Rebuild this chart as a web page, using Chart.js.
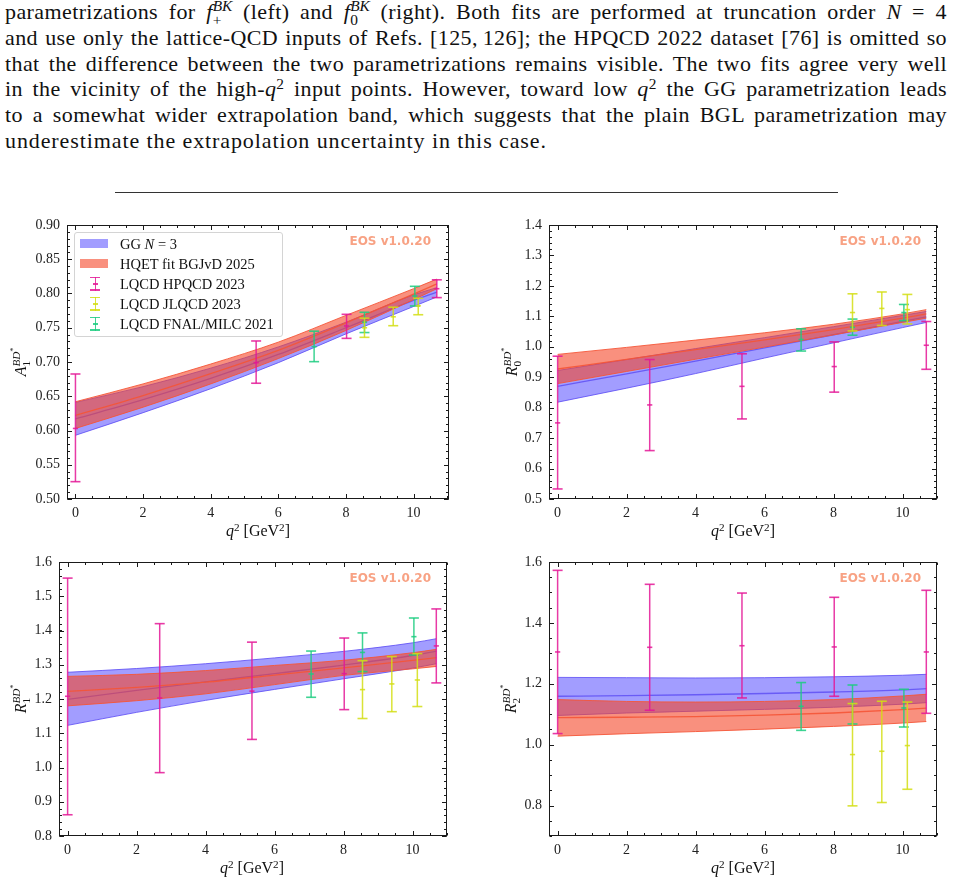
<!DOCTYPE html>
<html><head><meta charset="utf-8">
<script src="https://cdn.jsdelivr.net/npm/chart.js@4.4.1/dist/chart.umd.min.js"></script>
<style>
html,body{margin:0;padding:0;background:#fff;}
body{width:953px;height:884px;position:relative;overflow:hidden;font-family:'Liberation Serif',serif;color:#111;}
.para{position:absolute;left:5px;top:-1px;width:942px;font-size:22px;line-height:25.8px;letter-spacing:0.4px;}
.para .ln{height:25.8px;text-align:justify;text-align-last:justify;}
.para .ln.last{text-align:left;text-align-last:left;letter-spacing:0.9px;}
.sp{font-size:0.7em;line-height:0;vertical-align:0.45em;}
.ss{display:inline-flex;flex-direction:column;font-size:0.7em;line-height:0.92;vertical-align:0.55em;text-align:left;text-align-last:left;letter-spacing:0;}
.rule{position:absolute;left:115px;top:192px;width:723px;height:1px;background:#333;}
canvas{position:absolute;}
.eos{position:absolute;font-family:'DejaVu Sans',sans-serif;font-weight:bold;font-size:12px;color:rgb(248,162,132);white-space:nowrap;line-height:14px;}
.ylab{position:absolute;font-size:16px;white-space:nowrap;transform:translate(-50%,-50%) rotate(-90deg);line-height:20px;}
.xlab{position:absolute;font-size:16px;white-space:nowrap;transform:translate(-50%,-50%);line-height:20px;}
.legend{position:absolute;left:74px;top:232px;width:209px;height:105px;border:1px solid #d4d4d4;border-radius:3px;background:rgba(255,255,255,0.85);box-sizing:border-box;font-size:14.5px;}
.legend .row{position:absolute;left:0;height:20px;width:100%;}
.legend .sw{position:absolute;left:5px;top:5.5px;width:28px;height:9px;}
.legend .tx{position:absolute;left:45px;top:0;line-height:20px;white-space:nowrap;}
.eb{position:absolute;left:15px;top:3px;width:10px;height:14px;}
.eb .v{position:absolute;left:4.5px;top:0;width:1.5px;height:14px;}
.eb .c{position:absolute;left:0;width:10px;height:1.5px;}
.eb .m{position:absolute;left:2.5px;top:6.5px;width:5px;height:1.5px;}
</style></head><body>

<div class="para">
<div class="ln">parametrizations for <i>f</i><span class="ss"><span><i>BK</i></span><span>+</span></span> (left) and <i>f</i><span class="ss"><span><i>BK</i></span><span>0</span></span> (right). Both fits are performed at truncation order <i>N</i>&nbsp;=&nbsp;4</div>
<div class="ln">and use only the lattice-QCD inputs of Refs. [125,&thinsp;126]; the HPQCD 2022 dataset [76] is omitted so</div>
<div class="ln">that the difference between the two parametrizations remains visible. The two fits agree very well</div>
<div class="ln">in the vicinity of the high-<i>q</i><span class="sp">2</span> input points. However, toward low <i>q</i><span class="sp">2</span> the GG parametrization leads</div>
<div class="ln">to a somewhat wider extrapolation band, which suggests that the plain BGL parametrization may</div>
<div class="ln last">underestimate the extrapolation uncertainty in this case.</div>
</div>
<div class="rule"></div>

<canvas id="c1"></canvas><canvas id="c2"></canvas><canvas id="c3"></canvas><canvas id="c4"></canvas>

<div class="legend">
  <div class="row" style="top:0.5px"><div class="sw" style="background:rgba(80,70,255,0.53)"></div><div class="tx">GG <i>N</i> = 3</div></div>
  <div class="row" style="top:20.5px"><div class="sw" style="background:rgba(245,70,40,0.6)"></div><div class="tx">HQET fit BGJvD 2025</div></div>
  <div class="row" style="top:40.5px"><div class="eb"><div class="v" style="background:rgba(228,24,150,0.85)"></div><div class="c" style="top:0;background:rgba(228,24,150,0.85)"></div><div class="c" style="top:12.5px;background:rgba(228,24,150,0.85)"></div><div class="m" style="background:rgba(228,24,150,0.85)"></div></div><div class="tx">LQCD HPQCD 2023</div></div>
  <div class="row" style="top:60.5px"><div class="eb"><div class="v" style="background:rgba(212,222,20,0.85)"></div><div class="c" style="top:0;background:rgba(212,222,20,0.85)"></div><div class="c" style="top:12.5px;background:rgba(212,222,20,0.85)"></div><div class="m" style="background:rgba(212,222,20,0.85)"></div></div><div class="tx">LQCD JLQCD 2023</div></div>
  <div class="row" style="top:80.5px"><div class="eb"><div class="v" style="background:rgba(28,204,128,0.85)"></div><div class="c" style="top:0;background:rgba(28,204,128,0.85)"></div><div class="c" style="top:12.5px;background:rgba(28,204,128,0.85)"></div><div class="m" style="background:rgba(28,204,128,0.85)"></div></div><div class="tx">LQCD FNAL/MILC 2021</div></div>
</div>

<div class="eos" style="right:522px;top:234px">EOS v1.0.20</div>
<div class="eos" style="right:32px;top:234px">EOS v1.0.20</div>
<div class="eos" style="right:522px;top:571px">EOS v1.0.20</div>
<div class="eos" style="right:32px;top:571px">EOS v1.0.20</div>

<div class="ylab" style="left:21px;top:362px"><i>A</i><span class="ss"><span><i>BD</i><span class="sp">*</span></span><span>1</span></span></div>
<div class="ylab" style="left:512px;top:362px"><i>R</i><span class="ss"><span><i>BD</i><span class="sp">*</span></span><span>0</span></span></div>
<div class="ylab" style="left:21px;top:699px"><i>R</i><span class="ss"><span><i>BD</i><span class="sp">*</span></span><span>1</span></span></div>
<div class="ylab" style="left:511px;top:699px"><i>R</i><span class="ss"><span><i>BD</i><span class="sp">*</span></span><span>2</span></span></div>

<div class="xlab" style="left:258px;top:531px"><i>q</i><span class="sp">2</span> [GeV<span class="sp">2</span>]</div>
<div class="xlab" style="left:743px;top:531px"><i>q</i><span class="sp">2</span> [GeV<span class="sp">2</span>]</div>
<div class="xlab" style="left:252px;top:868px"><i>q</i><span class="sp">2</span> [GeV<span class="sp">2</span>]</div>
<div class="xlab" style="left:743px;top:868px"><i>q</i><span class="sp">2</span> [GeV<span class="sp">2</span>]</div>

<script>
// ---------- data ----------
const q2Grid = [0, 2, 4, 6, 8, 10, 10.69];
const xTickValues = [0, 2, 4, 6, 8, 10];
const xTickLabels = ['0', '2', '4', '6', '8', '10'];

// A1
const a1GGUp  = [0.641, 0.664, 0.691, 0.722, 0.758, 0.798, 0.8085];
const a1GGMid = [0.617, 0.645, 0.676, 0.711, 0.750, 0.790, 0.802];
const a1GGLo  = [0.593, 0.626, 0.661, 0.699, 0.741, 0.781, 0.795];
const a1HQUp  = [0.642, 0.668, 0.697, 0.729, 0.768, 0.807, 0.821];
const a1HQMid = [0.622, 0.651, 0.683, 0.717, 0.757, 0.799, 0.814];
const a1HQLo  = [0.603, 0.634, 0.668, 0.705, 0.746, 0.791, 0.807];
const a1HpQ2 = [0, 5.345, 8.02, 10.69];
const a1HpC  = [0.603, 0.699, 0.7526, 0.807];
const a1HpLo = [0.5253, 0.669, 0.7345, 0.794];
const a1HpHi = [0.6825, 0.7307, 0.7696, 0.820];
const jlQ2 = [8.55, 9.40, 10.14];
const a1JlC  = [0.750, 0.766, 0.782];
const a1JlLo = [0.736, 0.753, 0.769];
const a1JlHi = [0.764, 0.780, 0.793];
const fnQ2 = [7.06, 8.55, 10.04];
const a1FnC  = [0.7224, 0.758, 0.7964];
const a1FnLo = [0.7005, 0.743, 0.7818];
const a1FnHi = [0.745, 0.7726, 0.8105];
const a1YTicks = [0.50, 0.55, 0.60, 0.65, 0.70, 0.75, 0.80, 0.85, 0.90];
const a1YLabels = ['0.50', '0.55', '0.60', '0.65', '0.70', '0.75', '0.80', '0.85', '0.90'];

// R0
const r0GGUp  = [0.922, 0.958, 0.994, 1.030, 1.066, 1.103, 1.116];
const r0GGMid = [0.870, 0.911, 0.953, 0.9965, 1.0395, 1.083, 1.098];
const r0GGLo  = [0.818, 0.864, 0.912, 0.963, 1.013, 1.063, 1.080];
const r0HQUp  = [0.975, 0.998, 1.022, 1.046, 1.074, 1.108, 1.122];
const r0HQMid = [0.927, 0.9585, 0.9905, 1.0225, 1.0565, 1.094, 1.108];
const r0HQLo  = [0.879, 0.919, 0.959, 0.999, 1.039, 1.080, 1.094];
const hpQ2 = [0, 2.67, 5.345, 8.02, 10.69];
const r0HpC  = [0.750, 0.809, 0.870, 0.935, 1.005];
const r0HpLo = [0.533, 0.659, 0.763, 0.851, 0.926];
const r0HpHi = [0.969, 0.958, 0.977, 1.016, 1.083];
const r0JlC  = [1.1125, 1.126, 1.122];
const r0JlLo = [1.052, 1.070, 1.075];
const r0JlHi = [1.174, 1.180, 1.172];
const r0FnC  = [1.024, 1.064, 1.1125];
const r0FnLo = [0.986, 1.038, 1.086];
const r0FnHi = [1.059, 1.091, 1.139];
const r0YTicks = [0.5, 0.6, 0.7, 0.8, 0.9, 1.0, 1.1, 1.2, 1.3, 1.4];
const r0YLabels = ['0.5', '0.6', '0.7', '0.8', '0.9', '1.0', '1.1', '1.2', '1.3', '1.4'];

// R1
const r1GGUp  = [1.278, 1.289, 1.303, 1.320, 1.339, 1.364, 1.376];
const r1GGMid = [1.199, 1.225, 1.250, 1.274, 1.299, 1.327, 1.340];
const r1GGLo  = [1.123, 1.161, 1.196, 1.228, 1.259, 1.290, 1.303];
const r1HQUp  = [1.266, 1.272, 1.283, 1.298, 1.313, 1.335, 1.345];
const r1HQMid = [1.222, 1.234, 1.249, 1.270, 1.291, 1.3125, 1.321];
const r1HQLo  = [1.180, 1.195, 1.215, 1.242, 1.269, 1.288, 1.295];
const r1HpC  = [1.208, 1.203, 1.223, 1.274, 1.355];
const r1HpLo = [0.862, 0.985, 1.082, 1.169, 1.247];
const r1HpHi = [1.553, 1.420, 1.366, 1.378, 1.463];
const r1JlC  = [1.2274, 1.244, 1.2555];
const r1JlLo = [1.143, 1.163, 1.178];
const r1JlHi = [1.312, 1.324, 1.3325];
const r1FnC  = [1.273, 1.336, 1.382];
const r1FnLo = [1.205, 1.280, 1.3285];
const r1FnHi = [1.340, 1.393, 1.4365];
const r1YTicks = [0.8, 0.9, 1.0, 1.1, 1.2, 1.3, 1.4, 1.5, 1.6];
const r1YLabels = ['0.8', '0.9', '1.0', '1.1', '1.2', '1.3', '1.4', '1.5', '1.6'];

// R2
const r2GGUp  = [1.221, 1.220, 1.219, 1.220, 1.223, 1.228, 1.231];
const r2GGMid = [1.159, 1.161, 1.164, 1.168, 1.173, 1.180, 1.184];
const r2GGLo  = [1.096, 1.104, 1.110, 1.116, 1.123, 1.133, 1.138];
const r2HQUp  = [1.148, 1.142, 1.140, 1.142, 1.148, 1.160, 1.1655];
const r2HQMid = [1.089, 1.090, 1.092, 1.097, 1.104, 1.115, 1.120];
const r2HQLo  = [1.028, 1.036, 1.043, 1.051, 1.060, 1.071, 1.076];
const r2HpC  = [1.3045, 1.3198, 1.325, 1.321, 1.3045];
const r2HpLo = [1.0364, 1.113, 1.1535, 1.159, 1.103];
const r2HpHi = [1.5726, 1.5267, 1.498, 1.484, 1.507];
const r2JlC  = [0.9675, 0.9783, 0.997];
const r2JlLo = [0.799, 0.810, 0.8535];
const r2JlHi = [1.135, 1.1426, 1.140];
const r2FnC  = [1.126, 1.135, 1.1205];
const r2FnLo = [1.047, 1.068, 1.058];
const r2FnHi = [1.204, 1.196, 1.182];
const r2YTicks = [0.8, 1.0, 1.2, 1.4, 1.6];
const r2YLabels = ['0.8', '1.0', '1.2', '1.4', '1.6'];

// ---------- styles ----------
const GG_FILL = 'rgba(80,70,255,0.53)', GG_LINE = 'rgba(95,80,245,0.85)';
const HQ_FILL = 'rgba(245,70,40,0.6)',  HQ_LINE = 'rgba(245,85,55,0.9)';
const HP_COL = 'rgba(228,24,150,0.85)', JL_COL = 'rgba(212,222,20,0.85)', FN_COL = 'rgba(28,204,128,0.85)';

Chart.defaults.font.family = "'Liberation Serif', serif";
Chart.defaults.font.size = 14;
Chart.defaults.color = '#222';

function band(up, mid, lo, fill, line, ord) {
  const pts = arr => q2Grid.map((x, i) => ({x, y: arr[i]}));
  const base = {pointRadius: 0, borderWidth: 1, cubicInterpolationMode: 'monotone', borderColor: line};
  return [
    {...base, data: pts(up), fill: '+1', backgroundColor: fill, order: ord + 1},
    {...base, data: pts(lo), fill: false, order: ord},
    {...base, data: pts(mid), fill: false, borderWidth: 1.3, order: ord},
  ];
}
function bars(xs, c, lo, hi, color) {
  return xs.map((x, i) => ({
    data: [{x, y: lo[i]}, {x, y: c[i]}, {x, y: hi[i]}],
    borderColor: color, borderWidth: 1.5, showLine: true, fill: false,
    pointStyle: 'line', pointRadius: [5, 2.6, 5], pointBorderColor: color, pointBorderWidth: 1.6,
    order: 5
  }));
}

const frameTicks = {
  id: 'frameTicks',
  afterDatasetsDraw(chart, args, o) {
    const {ctx, chartArea: a, scales} = chart;
    const xs = scales.x, ys = scales.y;
    const L = Math.round(a.left) + 0.5, R = Math.round(a.right) - 0.5;
    const T = Math.round(a.top) + 0.5, B = Math.round(a.bottom) - 0.5;
    ctx.save();
    ctx.strokeStyle = '#1a1a1a';
    ctx.lineWidth = 1;
    ctx.beginPath();
    const seg = (x1, y1, x2, y2) => { ctx.moveTo(x1, y1); ctx.lineTo(x2, y2); };
    const xt = (v, len) => { const p = Math.round(xs.getPixelForValue(v)) + 0.5; seg(p, B, p, B - len); seg(p, T, p, T + len); };
    const yt = (v, len) => { const p = Math.round(ys.getPixelForValue(v)) + 0.5; seg(L, p, L + len, p); seg(R, p, R - len, p); };
    const minor = (min, max, step, fn) => { for (let k = Math.ceil(min / step - 1e-6); k * step <= max + 1e-9; k++) fn(k * step, 2.5); };
    minor(xs.min, xs.max, o.xMinor, xt);
    minor(ys.min, ys.max, o.yMinor, yt);
    o.xMajor.forEach(v => xt(v, 4.5));
    o.yMajor.forEach(v => yt(v, 4.5));
    ctx.stroke();
    ctx.strokeRect(L, T, R - L, B - T);
    ctx.restore();
  }
};

function makeChart(id, box, plot, xr, yr, yTicks, yLabels, yMinor, datasets) {
  const cv = document.getElementById(id);
  cv.style.left = box.x + 'px'; cv.style.top = box.y + 'px';
  cv.width = box.w; cv.height = box.h;
  cv.style.width = box.w + 'px'; cv.style.height = box.h + 'px';
  const yAxisW = plot.l - box.x - 2;
  const xAxisH = box.y + box.h - plot.b - 2;
  return new Chart(cv, {
    type: 'line',
    data: {datasets},
    plugins: [frameTicks],
    options: {
      responsive: false, animation: false, events: [],
      layout: {padding: {left: 2, top: plot.t - box.y, right: box.x + box.w - plot.r, bottom: 2}},
      plugins: {legend: {display: false}, tooltip: {enabled: false},
        frameTicks: {xMajor: xTickValues, xMinor: 0.5, yMajor: yTicks, yMinor: yMinor}},
      scales: {
        x: {type: 'linear', min: xr[0], max: xr[1],
          grid: {display: false, drawTicks: false}, border: {display: false},
          afterFit: s => { s.height = xAxisH; },
          afterBuildTicks: s => { s.ticks = xTickValues.map(v => ({value: v})); },
          ticks: {padding: 6, autoSkip: false, maxRotation: 0, minRotation: 0, callback: (v, i) => xTickLabels[i]}},
        y: {type: 'linear', min: yr[0], max: yr[1],
          grid: {display: false, drawTicks: false}, border: {display: false},
          afterFit: s => { s.width = yAxisW; },
          afterBuildTicks: s => { s.ticks = yTicks.map(v => ({value: v})); },
          ticks: {padding: 7, autoSkip: false, callback: (v, i) => yLabels[i]}}
      }
    }
  });
}

function series(gg, hq, hp, jl, fn) {
  return [
    ...band(gg[0], gg[1], gg[2], GG_FILL, GG_LINE, 40),
    ...band(hq[0], hq[1], hq[2], HQ_FILL, HQ_LINE, 30),
    ...bars(hp[0], hp[1], hp[2], hp[3], HP_COL),
    ...bars(jlQ2, jl[0], jl[1], jl[2], JL_COL),
    ...bars(fnQ2, fn[0], fn[1], fn[2], FN_COL),
  ];
}

makeChart('c1', {x: 0, y: 205, w: 470, h: 335}, {l: 67, r: 449, t: 225, b: 499}, [-0.25, 11.05], [0.5, 0.9], a1YTicks, a1YLabels, 0.01,
  series([a1GGUp, a1GGMid, a1GGLo], [a1HQUp, a1HQMid, a1HQLo], [a1HpQ2, a1HpC, a1HpLo, a1HpHi], [a1JlC, a1JlLo, a1JlHi], [a1FnC, a1FnLo, a1FnHi]));
makeChart('c2', {x: 470, y: 205, w: 483, h: 335}, {l: 549, r: 937, t: 225, b: 499}, [-0.25, 11.0], [0.5, 1.4], r0YTicks, r0YLabels, 0.02,
  series([r0GGUp, r0GGMid, r0GGLo], [r0HQUp, r0HQMid, r0HQLo], [hpQ2, r0HpC, r0HpLo, r0HpHi], [r0JlC, r0JlLo, r0JlHi], [r0FnC, r0FnLo, r0FnHi]));
makeChart('c3', {x: 0, y: 545, w: 470, h: 339}, {l: 59, r: 447, t: 562, b: 836}, [-0.25, 11.0], [0.8, 1.6], r1YTicks, r1YLabels, 0.02,
  series([r1GGUp, r1GGMid, r1GGLo], [r1HQUp, r1HQMid, r1HQLo], [hpQ2, r1HpC, r1HpLo, r1HpHi], [r1JlC, r1JlLo, r1JlHi], [r1FnC, r1FnLo, r1FnHi]));
makeChart('c4', {x: 470, y: 545, w: 483, h: 339}, {l: 549, r: 937, t: 562, b: 836}, [-0.25, 11.0], [0.7, 1.6], r2YTicks, r2YLabels, 0.05,
  series([r2GGUp, r2GGMid, r2GGLo], [r2HQUp, r2HQMid, r2HQLo], [hpQ2, r2HpC, r2HpLo, r2HpHi], [r2JlC, r2JlLo, r2JlHi], [r2FnC, r2FnLo, r2FnHi]));
</script>
</body></html>
